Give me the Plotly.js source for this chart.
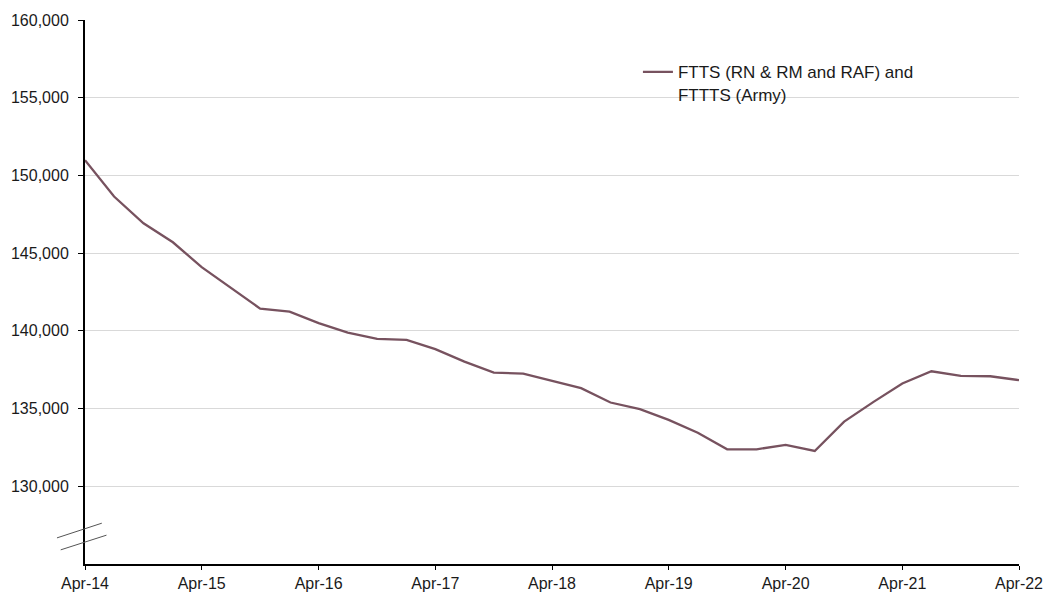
<!DOCTYPE html>
<html>
<head>
<meta charset="utf-8">
<script src="https://cdn.plot.ly/plotly-3.0.1.min.js"></script>
<style>
  html, body { margin: 0; padding: 0; background: #fff; }
  #chart { width: 1045px; height: 593px; }
</style>
</head>
<body>
<div id="chart"></div>
<script>
// quarterly figures, Apr-14 to Apr-22
const quarters = [
  "2014-04-01", "2014-07-01", "2014-10-01", "2015-01-01",
  "2015-04-01", "2015-07-01", "2015-10-01", "2016-01-01",
  "2016-04-01", "2016-07-01", "2016-10-01", "2017-01-01",
  "2017-04-01", "2017-07-01", "2017-10-01", "2018-01-01",
  "2018-04-01", "2018-07-01", "2018-10-01", "2019-01-01",
  "2019-04-01", "2019-07-01", "2019-10-01", "2020-01-01",
  "2020-04-01", "2020-07-01", "2020-10-01", "2021-01-01",
  "2021-04-01", "2021-07-01", "2021-10-01", "2022-01-01",
  "2022-04-01"
];
const strength = [
  150980, 148640, 146920, 145700,
  144100, 142770, 141430, 141240,
  140500, 139890, 139480, 139420,
  138820, 138020, 137310, 137250,
  136760, 136310, 135390, 134960,
  134270, 133450, 132380, 132380,
  132660, 132270, 134160, 135430,
  136610, 137400, 137100, 137080,
  136830
];
const seriesName = "FTTS (RN & RM and RAF) and<br>FTTTS (Army)";
const yTicks = [130000, 135000, 140000, 145000, 150000, 155000, 160000];

const trace = {
  x: quarters,
  y: strength,
  type: "scatter",
  mode: "lines",
  name: seriesName,
  line: { color: "#77525f", width: 2.3 }
};

// axis break marks near the bottom of the y axis
const breakStyle = { color: "#555", width: 1 };
const shapes = [
  { type: "line", xref: "paper", yref: "paper", x0: -0.030, y0: 0.048, x1: 0.018, y1: 0.075, line: breakStyle },
  { type: "line", xref: "paper", yref: "paper", x0: -0.026, y0: 0.026, x1: 0.023, y1: 0.053, line: breakStyle }
];

const layout = {
  width: 1045,
  height: 593,
  margin: { l: 85, r: 26, t: 20, b: 29 },
  paper_bgcolor: "#fff",
  plot_bgcolor: "#fff",
  font: { family: "Liberation Sans, Arial, sans-serif", size: 16, color: "#1a1a1a" },
  showlegend: true,
  legend: {
    x: 0.592, y: 0.937, xanchor: "left", yanchor: "top",
    valign: "top",
    bgcolor: "rgba(0,0,0,0)",
    font: { size: 17, color: "#1a1a1a" }
  },
  xaxis: {
    type: "date",
    range: ["2014-04-01", "2022-04-01"],
    tick0: "2014-04-01",
    dtick: "M12",
    tickformat: "%b-%y",
    showgrid: false,
    showline: true,
    linecolor: "#000",
    linewidth: 2,
    ticks: "outside",
    ticklen: 4,
    tickcolor: "#000",
    tickwidth: 1,
    zeroline: false
  },
  yaxis: {
    range: [125000, 160000],
    tickvals: yTicks,
    tickformat: ",",
    showgrid: true,
    gridcolor: "#d9d9d9",
    gridwidth: 1,
    showline: true,
    linecolor: "#000",
    linewidth: 2,
    ticks: "outside",
    ticklen: 5,
    tickcolor: "#000",
    tickwidth: 1,
    ticklabelstandoff: 6,
    zeroline: false
  },
  shapes: shapes
};

Plotly.newPlot("chart", [trace], layout, { displayModeBar: false, staticPlot: true });
</script>
</body>
</html>
